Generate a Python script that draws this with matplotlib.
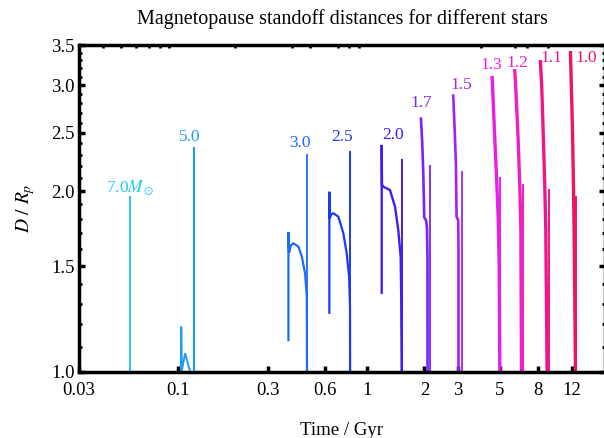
"""
Magnetopause standoff distances for different stellar masses
"""
import matplotlib
matplotlib.use('Agg')
import matplotlib.pyplot as plt
import matplotlib.ticker as mticker

# ============ data ============
MASSES = ['7.0', '5.0', '3.0', '2.5', '2.0', '1.7', '1.5', '1.3', '1.2', '1.1', '1.0']

# evolutionary track of each star: time (Gyr) and D / R_p
TRACK_T = [
    [],
    [0.104, 0.104, 0.1045, 0.109, 0.116],
    [0.383, 0.383, 0.386, 0.395, 0.407, 0.433, 0.451, 0.469, 0.479, 0.480],
    [0.630, 0.630, 0.633, 0.645, 0.662, 0.703, 0.747, 0.778, 0.801, 0.810, 0.811],
    [1.191, 1.191, 1.195, 1.214, 1.317, 1.400, 1.457, 1.500, 1.510, 1.518],
    [1.920, 1.950, 1.975, 1.998, 2.015, 2.040, 2.065, 2.078, 2.080],
    [2.842, 2.890, 2.936, 2.960, 2.990, 3.020, 3.030, 3.030],
    [4.564, 4.716, 4.820, 4.909, 4.970, 5.010],
    [6.010, 6.120, 6.260, 6.400, 6.470, 6.520],
    [8.210, 8.350, 8.480, 8.650, 8.760, 8.900],
    [11.83, 11.95, 12.12, 12.25, 12.36, 12.57],
]
TRACK_D = [
    [],
    [1.0, 1.19, 1.0, 1.074, 1.0],
    [1.13, 1.71, 1.58, 1.625, 1.637, 1.616, 1.555, 1.459, 1.335, 1.0],
    [1.255, 1.995, 1.80, 1.83, 1.837, 1.813, 1.701, 1.576, 1.441, 1.284, 1.0],
    [1.355, 2.387, 2.05, 2.034, 2.008, 1.884, 1.723, 1.555, 1.335, 1.0],
    [2.64, 2.40, 2.14, 1.81, 1.80, 1.79, 1.74, 1.55, 1.0],
    [2.883, 2.55, 2.225, 1.813, 1.80, 1.79, 1.60, 1.0],
    [3.088, 2.43, 2.086, 1.813, 1.50, 1.0],
    [3.172, 2.85, 2.43, 2.00, 1.723, 1.0],
    [3.283, 2.95, 2.53, 2.05, 1.723, 1.0],
    [3.399, 3.00, 2.53, 2.10, 1.72, 1.0],
]

# final vertical spike of each star
SPIKE_T = [0.056, 0.121, 0.480, 0.811, 1.518, 2.141, 3.158, 5.05, 6.65, 9.08, 12.72]
SPIKE_D = [1.96, 2.371, 2.306, 2.334, 2.259, 2.21, 2.16, 2.113, 2.055, 2.014, 1.965]

X_TICKS = [0.03, 0.1, 0.3, 0.6, 1, 2, 3, 5, 8, 12]
X_TICK_LABELS = ['0.03', '0.1', '0.3', '0.6', '1', '2', '3', '5', '8', '12']
Y_TICKS = [1.0, 1.5, 2.0, 2.5, 3.0, 3.5]
Y_TICK_LABELS = ['1.0', '1.5', '2.0', '2.5', '3.0', '3.5']
Y_MINOR = [1.1, 1.2, 1.3, 1.4, 1.6, 1.7, 1.8, 1.9, 2.1, 2.2, 2.3, 2.4,
           2.6, 2.7, 2.8, 2.9, 3.1, 3.2, 3.3, 3.4]

# ============ style ============
COLORS = ['#22c8f0', '#1e9cf5', '#1a6cf5', '#1a3af5', '#3b1ef5', '#7b22f5',
          '#a620f2', '#e81ee8', '#f01ec0', '#f0148c', '#f0145a']
TRACK_LW = [1.4, 1.4, 1.6, 1.6, 1.7, 1.9, 1.9, 2.4, 2.4, 2.4, 2.4]
SPIKE_LW = [1.4, 1.5, 1.3, 1.4, 1.4, 1.3, 1.3, 1.4, 1.4, 1.4, 1.4]
LABEL_T = [0.056, 0.1147, 0.4416, 0.738, 1.362, 1.936, 3.139, 4.53, 6.21, 9.39, 14.36]
LABEL_D = [2.031, 2.460, 2.405, 2.458, 2.480, 2.806, 3.003, 3.243, 3.263, 3.327, 3.327]

plt.rcParams['font.family'] = ['Liberation Serif', 'DejaVu Serif']
plt.rcParams['mathtext.fontset'] = 'stix'

W, H = 604, 438
fig = plt.figure(figsize=(W / 100, H / 100), dpi=100)
ax = fig.add_axes([79 / W, 66 / H, (605 - 79) / W, (372 - 45) / H])

for i, m in enumerate(MASSES):
    if TRACK_T[i]:
        ax.plot(TRACK_T[i], TRACK_D[i], color=COLORS[i], lw=TRACK_LW[i],
                solid_joinstyle='miter')
    ax.vlines(SPIKE_T[i], 1.0, SPIKE_D[i], color=COLORS[i], lw=SPIKE_LW[i])
    txt = m + r'$M_\odot$' if i == 0 else m
    ax.text(LABEL_T[i], LABEL_D[i], txt, color=COLORS[i], fontsize=12.5,
            ha='center', va='center')

ax.set_xscale('log')
ax.set_yscale('log')
ax.set_xlim(0.03, 18)
ax.set_ylim(1.0, 3.5)

ax.set_xticks(X_TICKS)
ax.set_xticklabels(X_TICK_LABELS)
ax.set_yticks(Y_TICKS)
ax.set_yticklabels(Y_TICK_LABELS)
ax.yaxis.set_minor_locator(mticker.FixedLocator(Y_MINOR))
ax.yaxis.set_minor_formatter(mticker.NullFormatter())
ax.xaxis.set_minor_locator(mticker.LogLocator(subs=(2, 3, 4, 5, 6, 7, 8, 9)))
ax.xaxis.set_minor_formatter(mticker.NullFormatter())

ax.tick_params(which='major', direction='in', length=4.5, width=2.5,
               labelsize=13.5, top=False, right=True, pad=7)
ax.tick_params(axis='y', which='major', pad=3)
ax.tick_params(axis='y', which='minor', direction='in', length=2.5, width=2,
               left=True, right=True)
ax.tick_params(axis='x', which='minor', direction='in', length=2.5, width=2,
               bottom=False, top=True)
for s in ax.spines.values():
    s.set_linewidth(2.5)

ax.set_title('Magnetopause standoff distances for different stars',
             fontsize=14.5, pad=15)
ax.set_xlabel('Time / Gyr', fontsize=13.5, labelpad=17)
ax.set_ylabel(r'$D\ /\ R_p$', fontsize=14, labelpad=10)

plt.savefig('out.png', dpi=100)
plt.close()
